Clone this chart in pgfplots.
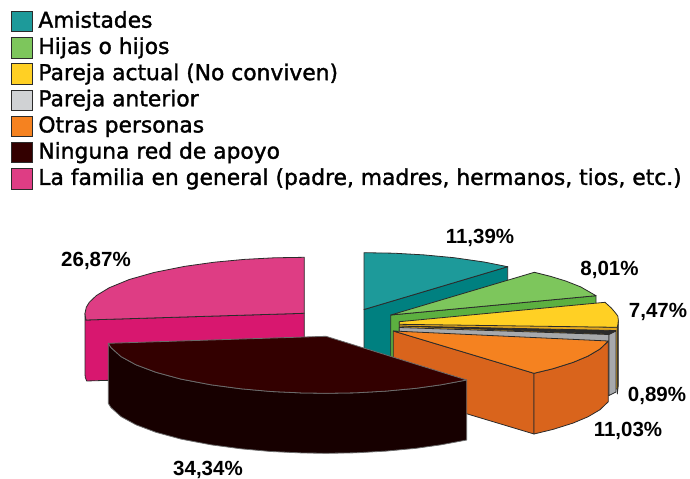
\documentclass[border=0pt]{standalone}
\usepackage{pgfplots}
\pgfplotsset{compat=1.18}
\usepackage{fontspec}
\setmainfont{Liberation Sans}
\newfontfamily\legfont{DejaVu Sans}[FakeBold=1.5]
\definecolor{tealT}{HTML}{1D9A9A}\definecolor{tealW}{HTML}{008080}
\definecolor{greenT}{HTML}{7DC65C}\definecolor{greenW}{HTML}{5CB040}
\definecolor{yelT}{HTML}{FFD024}\definecolor{yelW}{HTML}{E5A91E}
\definecolor{grayT}{HTML}{D0D2D4}\definecolor{grayW}{HTML}{A7A9AC}
\definecolor{oraT}{HTML}{F58220}\definecolor{oraW}{HTML}{D9641C}
\definecolor{darkT}{HTML}{330000}\definecolor{darkW}{HTML}{170000}
\definecolor{pinkT}{HTML}{DE3D84}\definecolor{pinkW}{HTML}{D8176F}
\definecolor{edge}{HTML}{2B2B2B}
\pgfplotsset{sl/.style={draw=edge,line width=0.8pt,line join=round,forget plot}}
\begin{document}
\begin{tikzpicture}
\begin{axis}[
  scale only axis,width=690pt,height=476pt,
  xmin=0,xmax=690,ymin=0,ymax=476,y dir=reverse,
  hide axis,clip=false,
  legend style={at={(axis cs:11,8.5)},anchor=north west,draw=none,fill=none,inner sep=0pt,outer sep=0pt,
    font=\legfont\fontsize{21.8}{22}\selectfont,row sep=0pt,
    /tikz/column 1/.style={column sep=6pt},
    nodes={inner sep=0pt,text height=19.2pt,text depth=7pt}},
  legend cell align=left,
  legend image code/.code={\draw[#1,line width=0.9pt] (0pt,-10.2pt) rectangle (20.5pt,10.2pt);},
]
\addlegendimage{fill=tealT,draw=edge}\addlegendentry{Amistades}
\addlegendimage{fill=greenT,draw=edge}\addlegendentry{Hijas o hijos}
\addlegendimage{fill=yelT,draw=edge}\addlegendentry{Pareja actual (No conviven)}
\addlegendimage{fill=grayT,draw=edge}\addlegendentry{Pareja anterior}
\addlegendimage{fill=oraT,draw=edge}\addlegendentry{Otras personas}
\addlegendimage{fill=darkT,draw=edge}\addlegendentry{Ninguna red de apoyo}
\addlegendimage{fill=pinkT,draw=edge}\addlegendentry{La familia en general (padre, madres, hermanos, tios, etc.)}
\path (axis cs:0,0) -- (axis cs:690,476);

% La familia en general: 26,87
\addplot[sl,fill=pinkW] coordinates {(304.3,313.3)(304.3,374.3)(86.7,381)(85.3,377.5)(85,374.3)(85,313.3)(85.3,316.5)(86,320)} --cycle;
\addplot[sl,fill=pinkT] coordinates {(304.3,313.3)(304.3,257.3)(274.3,257.8)(244.3,259.4)(214.3,262.2)(184.3,266.4)(154.3,272.4)(129.3,279.5)(109.3,287.7)(96.3,295.6)(89.3,302.3)(86.3,307.2)(85,313.3)(85.3,316.5)(86,320)} --cycle;
% Amistades: 11,39
\addplot[sl,fill=tealW] coordinates {(364,309.5)(507.7,266.7)(507.7,327)(364,370)} --cycle;
\addplot[sl,fill=tealT] coordinates {(364,309.5)(364,252.7)(394,253.2)(424,254.9)(454,257.7)(484,262)(507.7,266.7)} --cycle;
% Hijas o hijos: 8,01
\addplot[sl,fill=greenW] coordinates {(390.7,315)(596,295.7)(596,356)(390.7,376)} --cycle;
\addplot[sl,fill=greenT] coordinates {(390.7,315)(534.3,272.3)(550.7,276.4)(565.7,281)(580.7,286.9)(596,295.7)} --cycle;
% Pareja actual: 7,47
\addplot[sl,fill=edge] coordinates {(617.3,328.3)(618.3,320)(618.3,385)(617.3,394)} --cycle;
\addplot[sl,fill=yelW] coordinates {(399.3,322)(617.3,327.3)(617.3,389)(399.3,383)} --cycle;
\addplot[sl,fill=yelT] coordinates {(399.3,321.7)(605,302.3)(611.3,308)(615.3,312.7)(617.8,316)(618.3,320)(618,324)(617.3,327.3)(399.3,324.3)} --cycle;
% Pareja anterior: 0,89
\addplot[sl,fill=grayW] coordinates {(399.3,327.5)(609,334.5)(609,395.5)(399.3,387)} --cycle;
\addplot[sl,fill=grayW] coordinates {(609,334.5)(616,331)(616,392)(609,395.5)} --cycle;
\addplot[sl,fill=edge] coordinates {(399.3,326)(616,330.5)(609,334)} --cycle;
% Otras personas: 11,03
\addplot[sl,fill=oraW] coordinates {(393.3,331)(534,373.3)(534,434)(393.3,391.7)} --cycle;
\addplot[sl,fill=oraW] coordinates {(534,373.3)(553,368.7)(573,362.4)(588,356.1)(600,349)(608.3,341)(608.3,401.7)(600,409.7)(588,416.8)(573,423.1)(553,429.4)(534,434)} --cycle;
\addplot[sl,fill=oraT] coordinates {(393.3,331)(608.3,341)(600,349)(588,356.1)(573,362.4)(553,368.7)(534,373.3)} --cycle;
% Ninguna red de apoyo: 34,34
\addplot[sl,fill=darkW,draw=edge!70] coordinates {(466.7,380)(466.7,440)(441,444.8)(416,448.3)(386,451.1)(356,452.8)(326,453.3)(301,452.9)(271,451.5)(241,448.8)(211,444.8)(181,439.1)(156,432.3)(136,424.8)(121,416.6)(111,407.6)(108.3,403.3)(108.3,343.3)(111,347.6)(121,356.6)(136,364.8)(156,372.3)(181,379.1)(211,384.8)(241,388.8)(271,391.5)(301,392.9)(326,393.3)(356,392.8)(386,391.1)(416,388.3)(441,384.8)} --cycle;
\addplot[sl,fill=darkT,draw=edge!70] coordinates {(108.3,343.3)(326,336.3)(466.7,380)(441,384.8)(416,388.3)(386,391.1)(356,392.8)(326,393.3)(301,392.9)(271,391.5)(241,388.8)(211,384.8)(181,379.1)(156,372.3)(136,364.8)(121,356.6)(111,347.6)} --cycle;

\begin{scope}[every node/.style={font=\bfseries\fontsize{20.5}{22}\selectfont,text=black,inner sep=0pt}]
\node at (axis cs:480,237.5) {11,39\%};
\node at (axis cs:609.5,269.5) {8,01\%};
\node at (axis cs:658,311.5) {7,47\%};
\node at (axis cs:657,396) {0,89\%};
\node at (axis cs:628,431) {11,03\%};
\node at (axis cs:96,260.5) {26,87\%};
\node at (axis cs:208,470) {34,34\%};
\end{scope}
\end{axis}
\end{tikzpicture}
\end{document}
